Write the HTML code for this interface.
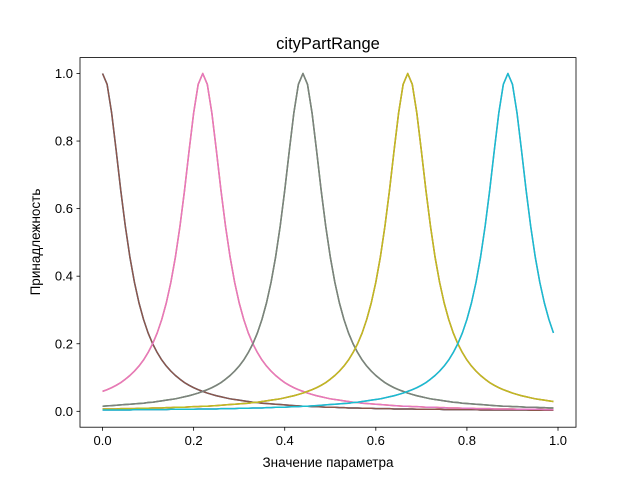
<!DOCTYPE html>
<html><head><meta charset="utf-8">
<style>
body{margin:0;background:#fff;}
svg{display:block;font-family:"Liberation Sans","DejaVu Sans",sans-serif;}
</style></head>
<body>
<svg id="chart" width="640" height="480" viewBox="0 0 640 480">
<rect x="0" y="0" width="640" height="480" fill="#fff"/>
<g id="grid"></g>
<g id="lines"></g>
<rect x="80" y="57.6" width="496" height="369.6" fill="none" stroke="#000" stroke-width="0.8"/>
<g id="ticks"></g>
<text x="328" y="49" text-anchor="middle" font-size="16.5">cityPartRange</text>
<text x="328" y="467" text-anchor="middle" font-size="13.5">Значение параметра</text>
<text transform="translate(40,242) rotate(-90)" text-anchor="middle" font-size="13.5">Принадлежность</text>
</svg>
<script>
const xTicks=[0,0.2,0.4,0.6,0.8,1.0];
const xTickLabels=["0.0","0.2","0.4","0.6","0.8","1.0"];
const yTicks=[0,0.2,0.4,0.6,0.8,1.0];
const yTickLabels=["0.0","0.2","0.4","0.6","0.8","1.0"];
const xValues=[0,.01,.02,.03,.04,.05,.06,.07,.08,.09,.10,.11,.12,.13,.14,.15,.16,.17,.18,.19,.20,.21,.22,.23,.24,.25,.26,.27,.28,.29,.30,.31,.32,.33,.34,.35,.36,.37,.38,.39,.40,.41,.42,.43,.44,.45,.46,.47,.48,.49,.50,.51,.52,.53,.54,.55,.56,.57,.58,.59,.60,.61,.62,.63,.64,.65,.66,.67,.68,.69,.70,.71,.72,.73,.74,.75,.76,.77,.78,.79,.80,.81,.82,.83,.84,.85,.86,.87,.88,.89,.90,.91,.92,.93,.94,.95,.96,.97,.98,.99];
const series0=[1,.968,.883,.771,.654,.548,.457,.382,.321,.272,.232,.200,.174,.152,.134,.119,.106,.095,.085,.077,.070,.064,.059,.054,.050,.046,.043,.040,.037,.035,.033,.031,.029,.027,.026,.024,.023,.022,.021,.020,.019,.018,.017,.016,.015,.015,.014,.014,.013,.012,.012,.012,.011,.011,.010,.010,.010,.009,.009,.009,.008,.008,.008,.008,.007,.007,.007,.007,.007,.006,.006,.006,.006,.006,.006,.005,.005,.005,.005,.005,.005,.005,.005,.004,.004,.004,.004,.004,.004,.004,.004,.004,.004,.004,.003,.003,.003,.003,.003,.003];
const series1=[.059,.064,.070,.077,.085,.095,.106,.119,.134,.152,.174,.200,.232,.272,.321,.382,.457,.548,.654,.771,.883,.968,1,.968,.883,.771,.654,.548,.457,.382,.321,.272,.232,.200,.174,.152,.134,.119,.106,.095,.085,.077,.070,.064,.059,.054,.050,.046,.043,.040,.037,.035,.033,.031,.029,.027,.026,.024,.023,.022,.021,.020,.019,.018,.017,.016,.015,.015,.014,.014,.013,.012,.012,.012,.011,.011,.010,.010,.010,.009,.009,.009,.008,.008,.008,.008,.007,.007,.007,.007,.007,.006,.006,.006,.006,.006,.006,.005,.005,.005];
const series2=[.015,.016,.017,.018,.019,.020,.021,.022,.023,.024,.026,.027,.029,.031,.033,.035,.037,.040,.043,.046,.050,.054,.059,.064,.070,.077,.085,.095,.106,.119,.134,.152,.174,.200,.232,.272,.321,.382,.457,.548,.654,.771,.883,.968,1,.968,.883,.771,.654,.548,.457,.382,.321,.272,.232,.200,.174,.152,.134,.119,.106,.095,.085,.077,.070,.064,.059,.054,.050,.046,.043,.040,.037,.035,.033,.031,.029,.027,.026,.024,.023,.022,.021,.020,.019,.018,.017,.016,.015,.015,.014,.014,.013,.012,.012,.012,.011,.011,.010,.010];
const series3=[.007,.007,.007,.007,.008,.008,.008,.008,.009,.009,.009,.010,.010,.010,.011,.011,.012,.012,.012,.013,.014,.014,.015,.015,.016,.017,.018,.019,.020,.021,.022,.023,.024,.026,.027,.029,.031,.033,.035,.037,.040,.043,.046,.050,.054,.059,.064,.070,.077,.085,.095,.106,.119,.134,.152,.174,.200,.232,.272,.321,.382,.457,.548,.654,.771,.883,.968,1,.968,.883,.771,.654,.548,.457,.382,.321,.272,.232,.200,.174,.152,.134,.119,.106,.095,.085,.077,.070,.064,.059,.054,.050,.046,.043,.040,.037,.035,.033,.031,.029];
const series4=[.004,.004,.004,.004,.004,.004,.004,.005,.005,.005,.005,.005,.005,.005,.005,.006,.006,.006,.006,.006,.006,.007,.007,.007,.007,.007,.008,.008,.008,.008,.009,.009,.009,.010,.010,.010,.011,.011,.012,.012,.012,.013,.014,.014,.015,.015,.016,.017,.018,.019,.020,.021,.022,.023,.024,.026,.027,.029,.031,.033,.035,.037,.040,.043,.046,.050,.054,.059,.064,.070,.077,.085,.095,.106,.119,.134,.152,.174,.200,.232,.272,.321,.382,.457,.548,.654,.771,.883,.968,1,.968,.883,.771,.654,.548,.457,.382,.321,.272,.232];
const seriesNames=["low-a","part1-a","part2-a","part3-a","high-a","low-b","part1-b","part2-b","part3-b","high-b"];

const L=80,R=576,T=57.6,B=427.2;
const xMin=-0.0495,xMax=1.0395,yMin=-0.047,yMax=1.047;
const sx=v=>L+(v-xMin)/(xMax-xMin)*(R-L);
const sy=v=>B-(v-yMin)/(yMax-yMin)*(B-T);
const NS="http://www.w3.org/2000/svg";
const colors=["#1f77b4","#ff7f0e","#2ca02c","#d62728","#9467bd","#8c564b","#e377c2","#7f7f7f","#bcbd22","#17becf"];
const allSeries=[series0,series1,series2,series3,series4,series0,series1,series2,series3,series4];
const lines=document.getElementById('lines');
allSeries.forEach((s,k)=>{
  const p=document.createElementNS(NS,'path');
  p.setAttribute('d',s.map((v,i)=>(i?'L':'M')+sx(xValues[i]).toFixed(2)+' '+sy(v).toFixed(2)).join(''));
  p.setAttribute('fill','none');p.setAttribute('stroke',colors[k]);p.setAttribute('stroke-width','1.5');
  p.setAttribute('stroke-linejoin','round');
  
  
  lines.appendChild(p);
});
const ticks=document.getElementById('ticks');
xTicks.forEach((v,i)=>{
  const x=sx(v);
  const l=document.createElementNS(NS,'line');
  l.setAttribute('x1',x);l.setAttribute('x2',x);l.setAttribute('y1',B);l.setAttribute('y2',B+3.5);
  l.setAttribute('stroke','#000');l.setAttribute('stroke-width','0.8');
  
  
  ticks.appendChild(l);
  const t=document.createElementNS(NS,'text');
  t.setAttribute('x',x);t.setAttribute('y',B+18);t.setAttribute('text-anchor','middle');t.setAttribute('font-size','13');
  t.textContent=xTickLabels[i];
  
  
  ticks.appendChild(t);
});
yTicks.forEach((v,i)=>{
  const y=sy(v);
  const l=document.createElementNS(NS,'line');
  l.setAttribute('x1',L-3.5);l.setAttribute('x2',L);l.setAttribute('y1',y);l.setAttribute('y2',y);
  l.setAttribute('stroke','#000');l.setAttribute('stroke-width','0.8');
  
  
  ticks.appendChild(l);
  const t=document.createElementNS(NS,'text');
  t.setAttribute('x',L-7);t.setAttribute('y',y+4.5);t.setAttribute('text-anchor','end');t.setAttribute('font-size','13');
  t.textContent=yTickLabels[i];
  
  
  ticks.appendChild(t);
});
</script>
</body></html>
